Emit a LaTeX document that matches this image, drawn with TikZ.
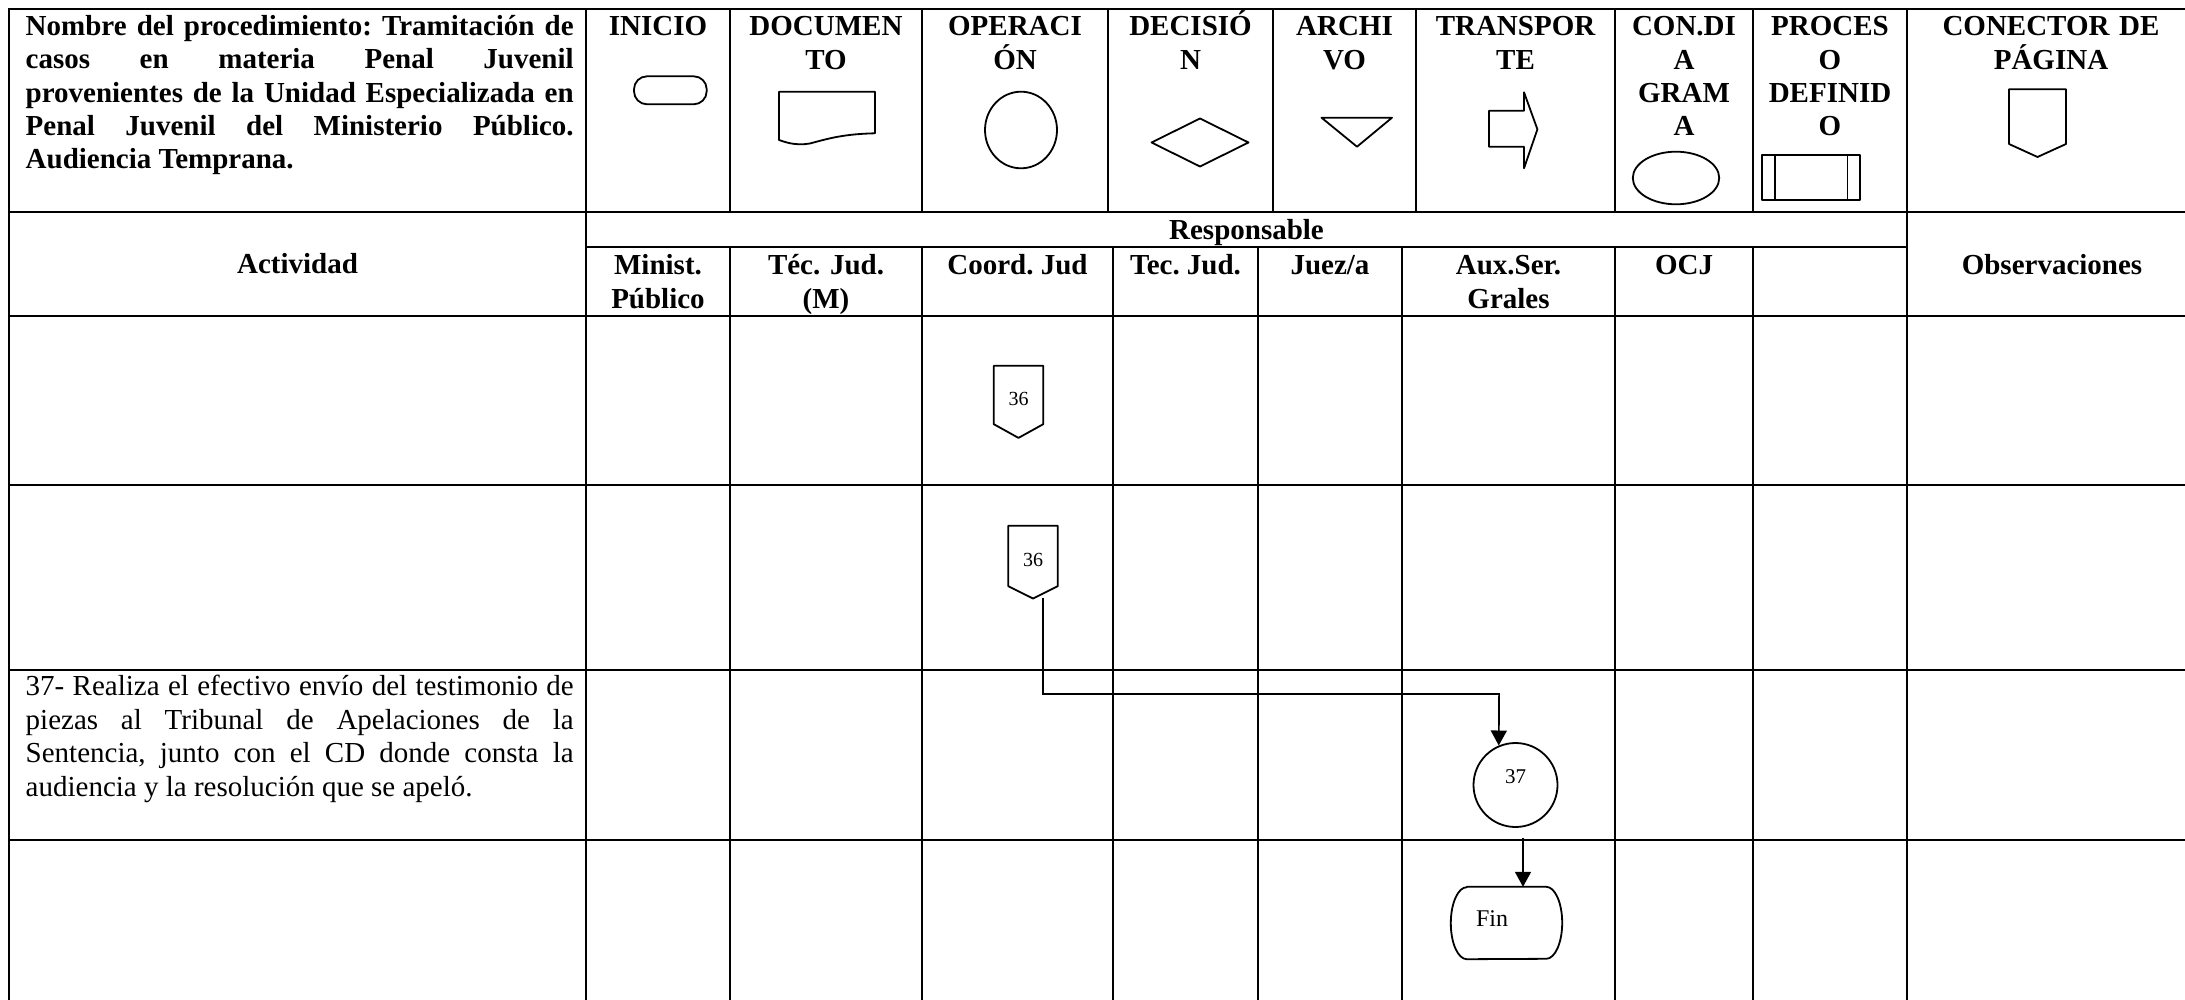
\documentclass[tikz,border=0pt]{standalone}
\usepackage{fontspec}
\setmainfont{Liberation Serif}
\usetikzlibrary{arrows.meta}
\tolerance=10000 \hbadness=10000
\frenchspacing
\newcommand\hdrfont{\fontsize{29}{33.3}\selectfont\bfseries}
\newcommand\bodyfont{\fontsize{29}{33.5}\selectfont}
\begin{document}
\begin{tikzpicture}[x=1pt,y=-1pt,
  gridline/.style={line width=2.7pt, line cap=rect},
  sym/.style={line width=1.8pt, line join=round},
  hdr/.style={font=\hdrfont, align=center, anchor=base, inner sep=0pt},
  flow/.style={line width=1.7pt},
  tip/.style={-{Triangle[length=15pt,width=16pt]}},
  offpage/.style={rectangle, minimum width=49pt, inner sep=0pt, text height=22pt, font=\fontsize{20}{24}\selectfont},
  stepcircle/.style={circle, draw, line width=1.8pt, minimum size=84pt, inner sep=0pt, font=\fontsize{21}{25}\selectfont, text depth=16pt},
  endbox/.style={rectangle, minimum width=111pt, minimum height=72pt, inner sep=0pt, font=\fontsize{24}{28}\selectfont, text width=61pt, align=left, text depth=8pt},
]
\useasboundingbox (0,0) rectangle (2185,1000);
\fill[white] (0,0) rectangle (2185,1000);

% ---------- grid ----------
\draw[gridline] (9,9) -- (2185,9);
\draw[gridline] (9,212) -- (2185,212);
\draw[gridline] (586,247) -- (1907,247);
\draw[gridline] (9,316) -- (2185,316);
\draw[gridline] (9,485) -- (2185,485);
\draw[gridline] (9,670) -- (2185,670);
\draw[gridline] (9,840) -- (2185,840);
\draw[gridline] (9,9) -- (9,1000);
\draw[gridline] (586,9) -- (586,1000);
\draw[gridline] (1907,9) -- (1907,1000);
\foreach \x in {730,922,1108,1273,1416,1615,1753}
  \draw[gridline] (\x,9) -- (\x,212);
\foreach \x in {730,922,1113,1258,1402,1615,1753}
  \draw[gridline] (\x,247) -- (\x,1000);

% ---------- title ----------
\node[anchor=base west, inner sep=0pt, text width=548pt, align=justify, font=\hdrfont] (title) at (25.5,35.7)
 {Nombre del procedimiento: Tramitación de\linebreak casos en materia Penal Juvenil\linebreak provenientes de la Unidad Especializada en\linebreak Penal Juvenil del Ministerio Público.\linebreak Audiencia Temprana.};

% ---------- symbol header ----------
\node[hdr, text width=140pt] (hIni) at (658,36) {INICIO};
\node[hdr, text width=186pt] (hDoc) at (826,36) {DOCUMEN\\TO};
\node[hdr, text width=180pt] (hOpe) at (1015,36) {OPERACI\\ÓN};
\node[hdr, text width=160pt] (hDec) at (1190.5,36) {DECISIÓ\\N};
\node[hdr, text width=138pt] (hArc) at (1344.5,36) {ARCHI\\VO};
\node[hdr, text width=194pt] (hTra) at (1515.5,36) {TRANSPOR\\TE};
\node[hdr, text width=134pt] (hCon) at (1684,36) {CON.DI\\A\\GRAM\\A};
\node[hdr, text width=150pt] (hPro) at (1830,36) {PROCES\\O\\DEFINID\\O};
\node[hdr, text width=260pt] (hPag) at (2051,36) {CONECTOR DE\\PÁGINA};

% symbols
\draw[sym, rounded corners=13pt] (634,76.3) rectangle (706.7,104.3);
\draw[sym] (779,91.7) -- (875,91.7) -- (875,133.3)
  .. controls (845,134) and (830,138) .. (810,143.5)
  .. controls (795,146) and (785,142) .. (779,140) -- cycle;
\draw[sym] (1021,130) ellipse [x radius=36, y radius=38.3];
\draw[sym] (1151.5,142.5) -- (1200,118.5) -- (1248.5,142.5) -- (1200,166.5) -- cycle;
\draw[sym] (1321.5,117.7) -- (1392,117.7) -- (1357,146.7) -- cycle;
\draw[sym] (1489,110.7) -- (1524,110.7) -- (1524,92.3) -- (1537.4,129.3) -- (1524,168.3) -- (1524,146.7) -- (1489,146.7) -- cycle;
\draw[sym] (1676,178) ellipse [x radius=43.2, y radius=26.3];
\draw[sym] (1762,155) rectangle (1860,200);
\draw[sym] (1774.7,155) -- (1774.7,200);
\draw[sym] (1847.4,155) -- (1847.4,200);
\draw[sym] (2009,89.3) -- (2066,89.3) -- (2066,144) -- (2037.5,157) -- (2009,144) -- cycle;

% ---------- second header rows ----------
\node[hdr] (hAct) at (297.5,274) {Actividad};
\node[hdr] (hRes) at (1246.5,240) {Responsable};
\node[hdr] (hObs) at (2052,275) {Observaciones};
\node[hdr, text width=140pt] (rMin) at (658,275) {Minist.\\Público};
\node[hdr, text width=186pt] (rTec) at (826,275) {Téc. Jud.\\(M)};
\node[hdr] (rCoo) at (1017.5,275) {Coord. Jud};
\node[hdr] (rTJ) at (1185.5,275) {Tec. Jud.};
\node[hdr] (rJue) at (1330,275) {Juez/a};
\node[hdr, text width=205pt] (rAux) at (1508.5,275) {Aux.Ser.\\Grales};
\node[hdr] (rOCJ) at (1684,275) {OCJ};

% ---------- activity text ----------
\node[anchor=base west, inner sep=0pt, text width=548pt, align=justify, font=\bodyfont] (act37) at (25.5,695.5)
 {37- Realiza el efectivo envío del testimonio de\linebreak piezas al Tribunal de Apelaciones de la\linebreak Sentencia, junto con el CD donde consta la\linebreak audiencia y la resolución que se apeló.};

% ---------- flow ----------
\node[offpage, minimum height=58pt] (k36a) at (1018.5,395) {36};
\draw[sym] (k36a.north west) -- (k36a.north east) -- (k36a.south east) -- ([yshift=-13.7pt]k36a.south) -- (k36a.south west) -- cycle;
\node[offpage, minimum height=60pt] (k36b) at (1033,556) {36};
\draw[sym] (k36b.north west) -- (k36b.north east) -- (k36b.south east) -- ([yshift=-12.3pt]k36b.south) -- (k36b.south west) -- cycle;

\node[stepcircle] (c37) at (1515.5,785) {37};
\node[endbox] (fin) at (1506.5,923) {Fin};
\draw[sym] ([xshift=16pt]fin.north west) -- ([xshift=-16pt]fin.north east)
  arc[start angle=90, end angle=-90, x radius=16pt, y radius=36pt]
  -- ([xshift=16pt]fin.south west)
  arc[start angle=270, end angle=90, x radius=16pt, y radius=36pt] -- cycle;

\coordinate (s36) at (1043,598);
\coordinate (j37) at (1499.1,694);
\draw[flow, tip] (s36) |- (j37) -- (c37.113);
\coordinate (s37) at (1523,838);
\draw[flow, tip] (s37) -- (s37 |- fin.north);
\end{tikzpicture}
\end{document}
